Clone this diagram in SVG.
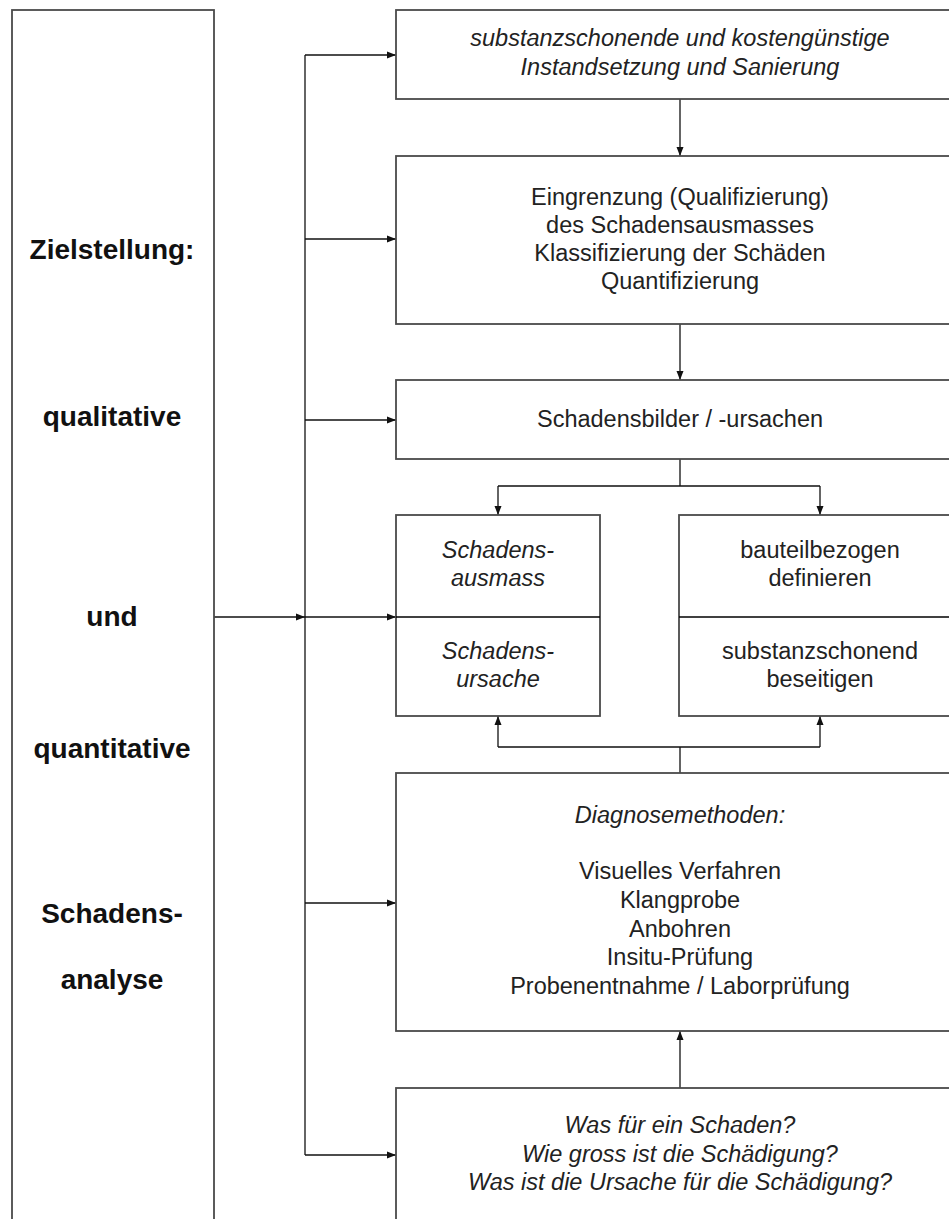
<svg xmlns="http://www.w3.org/2000/svg" width="949" height="1219" viewBox="0 0 949 1219">
<style>
.box{fill:#fff;stroke:#4a4a4a;stroke-width:1.8}
.div{stroke:#000;stroke-width:1.5;fill:none}
.con{stroke:#111;stroke-width:1.3;fill:none}
.arr{marker-end:url(#ah)}
text{font-family:"Liberation Sans",Arial,sans-serif;fill:#222;text-anchor:middle}
.t{font-size:23.5px}
.i{font-size:23.5px;font-style:italic}
.b{font-size:28px;font-weight:bold;fill:#111}
</style>
<defs>
<marker id="ah" markerUnits="userSpaceOnUse" markerWidth="10" markerHeight="8" refX="9" refY="4" orient="auto">
<path d="M0,0.5 L9,4 L0,7.5 z" fill="#111"/>
</marker>
</defs>
<rect width="949" height="1219" fill="#fff"/>

<g id="connectors">
<line class="con" x1="305" y1="55" x2="305" y2="1155"/>
<line class="con arr" x1="305" y1="55" x2="396" y2="55"/>
<line class="con arr" x1="305" y1="239" x2="396" y2="239"/>
<line class="con arr" x1="305" y1="420" x2="396" y2="420"/>
<line class="con arr" x1="214" y1="617" x2="305" y2="617"/>
<line class="con arr" x1="305" y1="617" x2="396" y2="617"/>
<line class="con arr" x1="305" y1="903" x2="396" y2="903"/>
<line class="con arr" x1="305" y1="1155" x2="396" y2="1155"/>
<line class="con arr" x1="680" y1="99" x2="680" y2="156"/>
<line class="con arr" x1="680" y1="324" x2="680" y2="380"/>
<path class="con" d="M680,459 V486 M498,486 H820"/>
<line class="con arr" x1="498" y1="486" x2="498" y2="515"/>
<line class="con arr" x1="820" y1="486" x2="820" y2="515"/>
<path class="con" d="M680,773 V747 M498,747 H820"/>
<line class="con arr" x1="498" y1="747" x2="498" y2="716"/>
<line class="con arr" x1="820" y1="747" x2="820" y2="716"/>
<line class="con arr" x1="680" y1="1088" x2="680" y2="1031"/>
</g>

<g id="goal">
<rect class="box" x="12" y="10" width="202" height="1240"/>
<text class="b" x="112" y="259">Zielstellung:</text>
<text class="b" x="112" y="426">qualitative</text>
<text class="b" x="112" y="626">und</text>
<text class="b" x="112" y="758">quantitative</text>
<text class="b" x="112" y="923">Schadens-</text>
<text class="b" x="112" y="989">analyse</text>
</g>

<g id="repair">
<rect class="box" x="396" y="10" width="570" height="89"/>
<text class="i" x="680" y="46">substanzschonende und kostengünstige</text>
<text class="i" x="680" y="75">Instandsetzung und Sanierung</text>
</g>

<g id="extent">
<rect class="box" x="396" y="156" width="570" height="168"/>
<text class="t" x="680" y="205">Eingrenzung (Qualifizierung)</text>
<text class="t" x="680" y="233">des Schadensausmasses</text>
<text class="t" x="680" y="261">Klassifizierung der Schäden</text>
<text class="t" x="680" y="289">Quantifizierung</text>
</g>

<g id="images">
<rect class="box" x="396" y="380" width="570" height="79"/>
<text class="t" x="680" y="427">Schadensbilder / -ursachen</text>
</g>

<g id="damage">
<rect class="box" x="396" y="515" width="204" height="201"/>
<line class="div" x1="396" y1="617" x2="600" y2="617"/>
<text class="i" x="498" y="558">Schadens-</text>
<text class="i" x="498" y="586">ausmass</text>
<text class="i" x="498" y="659">Schadens-</text>
<text class="i" x="498" y="687">ursache</text>
</g>

<g id="component">
<rect class="box" x="679" y="515" width="287" height="201"/>
<line class="div" x1="679" y1="617" x2="966" y2="617"/>
<text class="t" x="820" y="558">bauteilbezogen</text>
<text class="t" x="820" y="586">definieren</text>
<text class="t" x="820" y="659">substanzschonend</text>
<text class="t" x="820" y="687">beseitigen</text>
</g>

<g id="diagnosis">
<rect class="box" x="396" y="773" width="570" height="258"/>
<text class="i" x="680" y="823">Diagnosemethoden:</text>
<text class="t" x="680" y="879">Visuelles Verfahren</text>
<text class="t" x="680" y="908">Klangprobe</text>
<text class="t" x="680" y="937">Anbohren</text>
<text class="t" x="680" y="965">Insitu-Prüfung</text>
<text class="t" x="680" y="994">Probenentnahme / Laborprüfung</text>
</g>

<g id="questions">
<rect class="box" x="396" y="1088" width="570" height="170"/>
<text class="i" x="680" y="1133">Was für ein Schaden?</text>
<text class="i" x="680" y="1162">Wie gross ist die Schädigung?</text>
<text class="i" x="680" y="1190">Was ist die Ursache für die Schädigung?</text>
</g>
</svg>
